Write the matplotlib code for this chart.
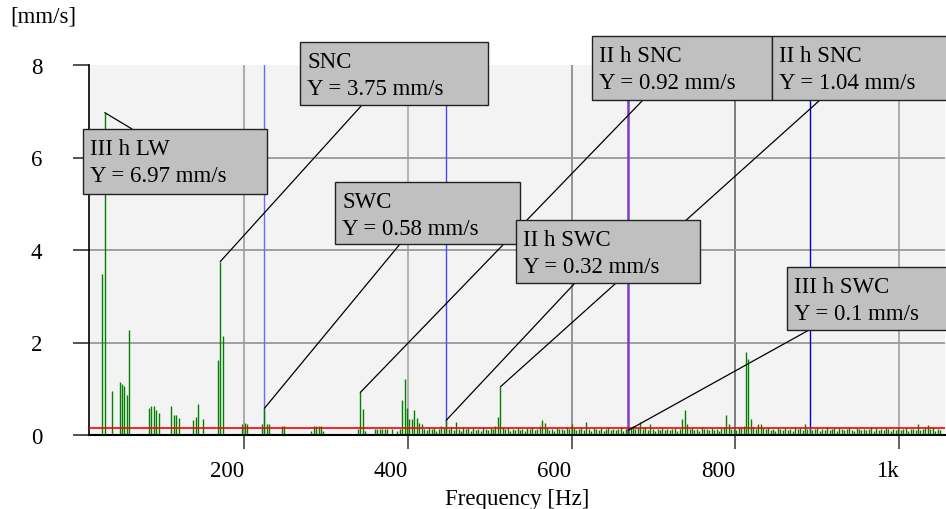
import numpy as np
import matplotlib.pyplot as plt
from matplotlib.patches import Rectangle

plt.rcParams['font.family'] = ['Liberation Serif', 'DejaVu Serif']

# isolated spectral lines below ~415 Hz
low_freq = [27, 30, 39, 48, 51, 54, 57, 60, 84, 87, 90, 93, 96,
            111, 114, 117, 120, 138, 141, 144, 150, 168, 171, 174,
            198, 201, 204, 222, 225, 228, 231, 246, 249,
            282, 285, 288, 291, 294, 297, 339, 342, 345, 348,
            360, 363, 366, 369, 372, 375, 381, 387, 390, 393, 396,
            399, 402, 405, 408, 411, 414]
low_amp = [3.48, 6.97, 0.96, 1.15, 1.10, 1.07, 0.86, 2.27, 0.58, 0.62, 0.62, 0.54, 0.47,
           0.63, 0.43, 0.43, 0.37, 0.33, 0.38, 0.67, 0.35, 1.63, 3.75, 2.14,
           0.24, 0.27, 0.24, 0.24, 0.58, 0.24, 0.24, 0.19, 0.19,
           0.08, 0.19, 0.19, 0.19, 0.19, 0.09, 0.13, 0.92, 0.56, 0.09,
           0.13, 0.13, 0.13, 0.13, 0.13, 0.13, 0.13, 0.09, 0.13, 0.76, 1.21,
           0.58, 0.35, 0.35, 0.53, 0.36, 0.27]

# dense part of the spectrum: one line every DF Hz starting at DENSE_START
DENSE_START = 417
DF = 3
dense_amp = [
    0.24, 0.14, 0.10, 0.18, 0.12, 0.16, 0.08, 0.13, 0.20, 0.15,
    0.32, 0.12, 0.17, 0.10, 0.29, 0.14, 0.09, 0.18, 0.12, 0.15,
    0.08, 0.16, 0.11, 0.14, 0.09, 0.17, 0.12, 0.10, 0.15, 0.13,
    0.20, 0.38, 1.04, 0.18, 0.12, 0.15, 0.09, 0.14, 0.11, 0.16,
    0.10, 0.13, 0.08, 0.15, 0.12, 0.17, 0.10, 0.14, 0.19, 0.33,
    0.26, 0.15, 0.11, 0.13, 0.09, 0.16, 0.12, 0.14, 0.10, 0.18,
    0.12, 0.24, 0.15, 0.10, 0.13, 0.17, 0.11, 0.29, 0.14, 0.09,
    0.16, 0.12, 0.10, 0.15, 0.09, 0.13, 0.18, 0.11, 0.14, 0.10,
    0.13, 0.17, 0.09, 0.14, 0.10, 0.16, 0.20, 0.12, 0.15, 0.29,
    0.12, 0.17, 0.10, 0.24, 0.14, 0.09, 0.13, 0.11, 0.16, 0.10,
    0.14, 0.10, 0.12, 0.16, 0.09, 0.13, 0.35, 0.53, 0.24, 0.12,
    0.15, 0.10, 0.13, 0.09, 0.17, 0.12, 0.14, 0.10, 0.16, 0.11,
    0.13, 0.09, 0.15, 0.18, 0.43, 0.24, 0.12, 0.14, 0.10, 0.17,
    0.16, 0.20, 1.79, 1.64, 0.35, 0.18, 0.14, 0.24, 0.24, 0.15,
    0.12, 0.17, 0.10, 0.14, 0.09, 0.16, 0.13, 0.11, 0.15, 0.10,
    0.14, 0.09, 0.17, 0.12, 0.15, 0.10, 0.24, 0.13, 0.16, 0.10,
    0.12, 0.15, 0.09, 0.14, 0.11, 0.17, 0.10, 0.13, 0.16, 0.09,
    0.15, 0.12, 0.10, 0.14, 0.18, 0.11, 0.09, 0.16, 0.13, 0.10,
    0.14, 0.10, 0.12, 0.17, 0.09, 0.15, 0.11, 0.13, 0.10, 0.16,
    0.12, 0.09, 0.14, 0.11, 0.16, 0.10, 0.13, 0.15, 0.09, 0.12,
    0.14, 0.11, 0.24, 0.10, 0.13, 0.15, 0.22, 0.12, 0.17, 0.09,
    0.13, 0.11,
]

# cursor lines
cursor_freq = [225, 447, 669, 891]
cursor_color = ['#6a6aff', '#4646ff', '#7a3cc8', '#0000cc']
cursor_lw = [1.0, 1.0, 1.8, 1.0]

THRESHOLD = 0.145

# annotated peaks
ann_label = ['III h LW', 'SNC', 'SWC', 'II h SNC', 'II h SNC', 'II h SWC', 'III h SWC']
ann_freq = [30, 171, 225, 342, 513, 447, 669]
ann_val = [6.97, 3.75, 0.58, 0.92, 1.04, 0.32, 0.1]

# label boxes (left, top, right, bottom) and leader end points, in image pixels
ann_box = [(83, 130, 267, 195), (300, 43, 488, 106), (335, 183, 520, 245),
           (592, 37, 772, 101), (772, 37, 950, 101), (516, 221, 700, 284),
           (787, 268, 950, 331)]
ann_end = [(132, 130), (362, 106), (400, 245), (643, 101), (820, 101),
           (575, 284), (809, 331)]

xticks = [200, 400, 600, 800, 1000]
xtick_labels = ['200', '400', '600', '800', '1k']
vgrid_color = ['#a0a0a0', '#a8a8a8', '#858585', '#6a6a6a', '#a0a0a0']
yticks = [0, 2, 4, 6, 8]

W, H = 946, 510
AX_L, AX_R, AX_T, AX_B = 89, 945, 66, 436


def to_axes(px, py):
    return (px - AX_L) / (AX_R - AX_L), (AX_B - py) / (AX_B - AX_T)


fig = plt.figure(figsize=(W / 100, H / 100), dpi=100)
ax = fig.add_axes([AX_L / W, 1 - AX_B / H, (AX_R - AX_L) / W, (AX_B - AX_T) / H])
ax.set_facecolor('#f3f3f3')
ax.set_xlim(10.7, 1056)
ax.set_ylim(0, 8)

# grid
for x, c in zip(xticks, vgrid_color):
    ax.axvline(x, color=c, lw=1.2, zorder=0.5)
for y in yticks[1:-1]:
    ax.axhline(y, color='#999999', lw=1.3, zorder=0.5)

for f, c, lw in zip(cursor_freq, cursor_color, cursor_lw):
    ax.axvline(f, color=c, lw=lw, zorder=1.5)

dense_freq = DENSE_START + DF * np.arange(len(dense_amp))
ax.vlines(low_freq, 0, low_amp, colors='#008000', lw=1.0, zorder=2)
ax.vlines(dense_freq, 0, dense_amp, colors='#008000', lw=1.0, zorder=2)

ax.axhline(THRESHOLD, color='red', lw=1.2, zorder=3)

for lab, f, v, box, end in zip(ann_label, ann_freq, ann_val, ann_box, ann_end):
    ax.annotate('', xy=(f, v), xycoords='data', xytext=to_axes(*end),
                textcoords='axes fraction', annotation_clip=False,
                arrowprops=dict(arrowstyle='-', color='black', lw=0.9,
                                shrinkA=0, shrinkB=0), zorder=4)
    l, t, r, b = box
    x0, y0 = to_axes(l, b)
    x1, y1 = to_axes(r, t)
    ax.add_patch(Rectangle((x0, y0), x1 - x0, y1 - y0, transform=ax.transAxes,
                           facecolor='#c0c0c0', edgecolor='#222222', lw=1.0,
                           clip_on=False, zorder=5))
    tx, ty = to_axes(l + 7, t + 9)
    ax.text(tx, ty, f'{lab}\nY = {v:g} mm/s', transform=ax.transAxes,
            ha='left', va='top', fontsize=16.5, linespacing=1.38,
            zorder=6, clip_on=False)

for s in ['top', 'right']:
    ax.spines[s].set_visible(False)
ax.spines['bottom'].set_linewidth(1.5)
ax.spines['left'].set_linewidth(1.2)

ax.set_xticks(xticks)
ax.set_xticklabels(xtick_labels, ha='right')
ax.set_yticks(yticks)
ax.tick_params(axis='x', direction='out', length=10, width=1.2, color='#444444',
               pad=8, labelsize=16.5)
ax.tick_params(axis='y', direction='out', length=11.5, width=1.2, color='#333333',
               pad=22, labelsize=16.5)
ax.set_xlabel('Frequency [Hz]', fontsize=16.5, labelpad=5)
fig.text(10 / W, 1 - 17 / H, '[mm/s]', fontsize=16.5, ha='left', va='center')

fig.savefig('out.png', dpi=100)
